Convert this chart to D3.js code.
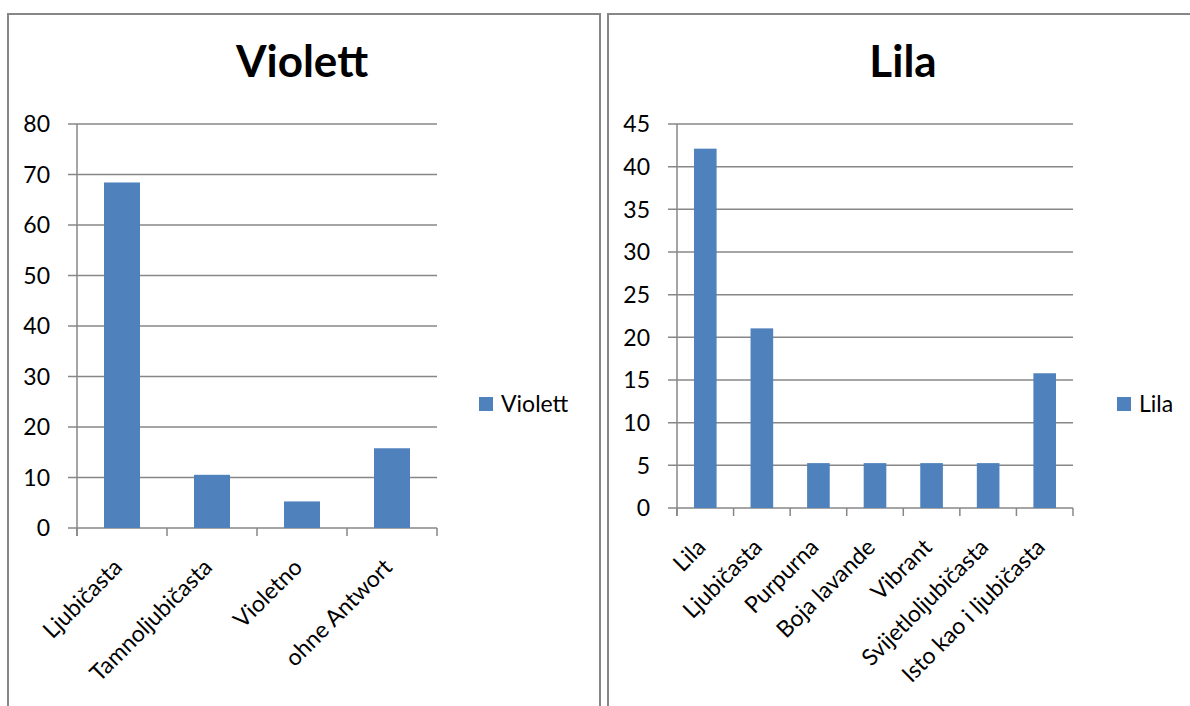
<!DOCTYPE html>
<html>
<head>
<meta charset="utf-8">
<script src="https://cdn.jsdelivr.net/npm/d3@7"></script>
<style>
body { margin:0; background:#fff; }
text { font-family: Lato, "Open Sans", sans-serif; fill:#000; }
</style>
</head>
<body>
<svg width="1190" height="706"></svg>
<script>
// values (shares of 19 answers, in %)
var violettCats = ["Ljubičasta", "Tamnoljubičasta", "Violetno", "ohne Antwort"];
var violettVals = [68.42, 10.53, 5.26, 15.79];
var violettTicks = [0, 10, 20, 30, 40, 50, 60, 70, 80];

var lilaCats = ["Lila", "Ljubičasta", "Purpurna", "Boja lavande", "Vibrant", "Svijetloljubičasta", "Isto kao i ljubičasta"];
var lilaVals = [42.11, 21.05, 5.26, 5.26, 5.26, 5.26, 15.79];
var lilaTicks = [0, 5, 10, 15, 20, 25, 30, 35, 40, 45];

var svg = d3.select("svg");
var grey = "#878787";
var barColor = "#4f81bd";

// frames of the two chart boxes
svg.append("rect").attr("x", 8).attr("y", 14).attr("width", 592).attr("height", 720)
	.attr("fill", "none").attr("stroke", grey).attr("stroke-width", 2);
svg.append("rect").attr("x", 608).attr("y", 14).attr("width", 620).attr("height", 720)
	.attr("fill", "none").attr("stroke", grey).attr("stroke-width", 2);

function drawChart(opt){
	var g = svg.append("g");
	var x = d3.scaleBand().domain(opt.cats).range([opt.left, opt.right]).paddingInner(0).paddingOuter(0);
	var y = d3.scaleLinear().domain([0, opt.max]).range([opt.bottom, opt.top]);

	// title
	g.append("text").attr("x", opt.titleX).attr("y", 77)
		.attr("text-anchor", "middle").style("font-size", "44px").style("font-weight", "bold")
		.text(opt.name);

	// gridlines + y labels
	opt.ticks.forEach(function(t){
		g.append("line").attr("x1", opt.left - 9).attr("x2", opt.right)
			.attr("y1", y(t)).attr("y2", y(t))
			.attr("stroke", grey).attr("stroke-width", 1.5);
		g.append("text").attr("x", opt.left - 27).attr("y", y(t)).attr("dy", "0.36em")
			.attr("text-anchor", "end").style("font-size", "23px").text(t);
	});

	// y axis
	g.append("line").attr("x1", opt.left).attr("x2", opt.left)
		.attr("y1", opt.top).attr("y2", opt.bottom + 8)
		.attr("stroke", grey).attr("stroke-width", 1.5);

	// x ticks
	var edges = opt.cats.map(function(c){ return x(c); }).concat([opt.right]);
	edges.forEach(function(e){
		g.append("line").attr("x1", e).attr("x2", e)
			.attr("y1", opt.bottom).attr("y2", opt.bottom + 8)
			.attr("stroke", grey).attr("stroke-width", 1.5);
	});

	// bars
	var bw = x.bandwidth() / 2.5;
	g.selectAll("rect.bar").data(opt.vals).enter().append("rect")
		.attr("class", "bar")
		.attr("x", function(d, i){ return x(opt.cats[i]) + (x.bandwidth() - bw) / 2; })
		.attr("y", function(d){ return y(d); })
		.attr("width", bw)
		.attr("height", function(d){ return opt.bottom - y(d); })
		.attr("fill", barColor);

	// category labels, rotated
	g.selectAll("text.cat").data(opt.cats).enter().append("text")
		.attr("class", "cat")
		.attr("text-anchor", "end")
		.attr("dy", "0.35em")
		.style("font-size", "23px")
		.attr("transform", function(d){
			var cx = x(d) + x.bandwidth() / 2 - 4;
			return "translate(" + cx + "," + (opt.bottom + 35) + ") rotate(-45)";
		})
		.text(function(d){ return d; });

	// legend
	g.append("rect").attr("x", opt.legX).attr("y", 397).attr("width", 14).attr("height", 14)
		.attr("fill", barColor);
	g.append("text").attr("x", opt.legX + 22).attr("y", 404).attr("dy", "0.36em")
		.style("font-size", "23px").text(opt.name);
}

drawChart({
	name: "Violett", cats: violettCats, vals: violettVals, ticks: violettTicks, max: 80,
	left: 77, right: 437, top: 124, bottom: 528, titleX: 302, legX: 479
});

drawChart({
	name: "Lila", cats: lilaCats, vals: lilaVals, ticks: lilaTicks, max: 45,
	left: 677, right: 1073, top: 124, bottom: 508, titleX: 903, legX: 1117
});
</script>
</body>
</html>
